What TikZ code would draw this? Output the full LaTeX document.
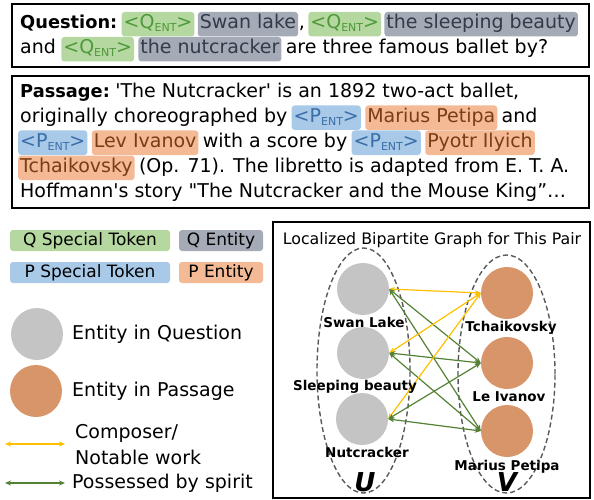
\documentclass[tikz,border=0pt]{standalone}
\usepackage{fontspec}
\setmainfont{DejaVu Sans}
\usetikzlibrary{arrows.meta,positioning,shapes.geometric}

\definecolor{qtokfill}{HTML}{B5D7A0}
\definecolor{qtoktext}{HTML}{4E9A3A}
\definecolor{qentfill}{HTML}{A5AAB7}
\definecolor{qenttext}{HTML}{333A48}
\definecolor{ptokfill}{HTML}{A8C9E8}
\definecolor{ptoktext}{HTML}{3A6EA8}
\definecolor{pentfill}{HTML}{F4B995}
\definecolor{penttext}{HTML}{7A3E14}
\definecolor{qcirc}{HTML}{C4C4C4}
\definecolor{pcirc}{HTML}{D9956A}
\definecolor{yedgecol}{HTML}{FFC000}
\definecolor{gedgecol}{HTML}{548235}

\newcommand\bigtxt{\fontsize{19}{25}\selectfont}
\newcommand\headtxt{\fontsize{17.8}{25}\selectfont\bfseries}
\newcommand\entsub{\raisebox{-2.5pt}{\fontsize{11}{11}\selectfont ENT}}

\begin{document}
\begin{tikzpicture}[x=1pt,y=-1pt]
	\tikzset{frame/.style={draw,line width=1.6pt}}
	\tikzset{txt/.style={inner sep=0pt,anchor=base west,text height=14pt,text depth=4.5pt,font=\bigtxt}}
	\tikzset{hl/.style={txt,rounded corners=3pt,inner xsep=2pt,inner ysep=3pt}}
	\tikzset{qtok/.style={hl,fill=qtokfill,text=qtoktext}}
	\tikzset{qent/.style={hl,fill=qentfill,text=qenttext}}
	\tikzset{ptok/.style={hl,fill=ptokfill,text=ptoktext}}
	\tikzset{pent/.style={hl,fill=pentfill,text=penttext}}
	\tikzset{legbox/.style={rounded corners=3pt,minimum height=21pt,inner sep=0pt,font=\fontsize{17}{20}\selectfont}}
	\tikzset{legtext/.style={anchor=west,inner sep=0pt,font=\bigtxt}}
	\tikzset{qnode/.style={circle,fill=qcirc,minimum size=52pt,inner sep=0pt}}
	\tikzset{pnode/.style={circle,fill=pcirc,minimum size=52pt,inner sep=0pt}}
	\tikzset{glabel/.style={inner sep=0pt,font=\fontsize{13.5}{15}\selectfont\bfseries}}
	\tikzset{setbound/.style={ellipse,draw=black!65,dash pattern=on 5pt off 3pt,line width=1.4pt,inner sep=0pt}}
	\tikzset{yedge/.style={draw=yedgecol,line width=1.2pt,{Stealth[length=6pt,width=5pt]}-{Stealth[length=6pt,width=5pt]}}}
	\tikzset{gedge/.style={draw=gedgecol,line width=1.2pt,{Stealth[length=6pt,width=5pt]}-{Stealth[length=6pt,width=5pt]}}}
	\useasboundingbox (0,0) rectangle (594,500);

	% question box
	\draw[frame] (12,4) rectangle (589,67);
	\node[txt] (qlab) at (20,29) {\headtxt Question:};
	\node[qtok] (qt1) at ([xshift=4pt]qlab.base east) {<Q\entsub>};
	\node[qent] (qe1) at ([xshift=3pt]qt1.base east) {Swan lake};
	\node[txt] (qcomma) at ([xshift=0.5pt]qe1.base east) {,};
	\node[qtok] (qt2) at ([xshift=3pt]qcomma.base east) {<Q\entsub>};
	\node[qent] (qe2) at ([xshift=3pt]qt2.base east) {the sleeping beauty};
	\node[txt] (qand) at (20,54) {and};
	\node[qtok] (qt3) at ([xshift=5pt]qand.base east) {<Q\entsub>};
	\node[qent] (qe3) at ([xshift=4pt]qt3.base east) {the nutcracker};
	\node[txt] (qrest) at ([xshift=4pt]qe3.base east) {are three famous ballet by?};

	% passage box
	\draw[frame] (12,76) rectangle (589,208);
	\node[txt] (plab) at (20,97.5) {\headtxt Passage:};
	\node[txt] (pl1) at ([xshift=5pt]plab.base east) {\textquotesingle The Nutcracker\textquotesingle{} is an 1892 two-act ballet,};
	\node[txt] (pl2) at (20,122.5) {originally choreographed by};
	\node[ptok] (pt1) at ([xshift=4pt]pl2.base east) {<P\entsub>};
	\node[pent] (pe1) at ([xshift=4pt]pt1.base east) {Marius Petipa};
	\node[txt] (pand) at ([xshift=4pt]pe1.base east) {and};
	\node[ptok] (pt2) at (18,147.5) {<P\entsub>};
	\node[pent] (pe2) at ([xshift=4pt]pt2.base east) {Lev Ivanov};
	\node[txt] (pl3) at ([xshift=4pt]pe2.base east) {with a score by};
	\node[ptok] (pt3) at ([xshift=4pt]pl3.base east) {<P\entsub>};
	\node[pent] (pe3) at ([xshift=4pt]pt3.base east) {Pyotr Ilyich};
	\node[pent] (pe3b) at (18,172.5) {Tchaikovsky};
	\node[txt] (pl4) at ([xshift=4pt]pe3b.base east) {(Op. 71). The libretto is adapted from E. T. A.};
	\node[txt] (pl5) at (20,197.5) {Hoffmann\textquotesingle s story \textquotedbl The Nutcracker and the Mouse King”…};

	% legend
	\node[legbox,fill=qtokfill,minimum width=160pt] (lqt) at (90,240.5) {Q Special Token};
	\node[legbox,fill=qentfill,minimum width=84pt] (lqe) at (221,240.5) {Q Entity};
	\node[legbox,fill=ptokfill,minimum width=160pt] (lpt) at (90,272.5) {P Special Token};
	\node[legbox,fill=pentfill,minimum width=84pt] (lpe) at (221,272.5) {P Entity};
	\node[qnode] (lqc) at (37,334) {};
	\node[legtext] (lqctext) at (72,334) {Entity in Question};
	\node[pnode] (lpc) at (36,391) {};
	\node[legtext] (lpctext) at (72,391) {Entity in Passage};
	\coordinate (ya) at (5,444);
	\coordinate (yb) at (65,444);
	\draw[yedge] (ya) -- (yb);
	\node[legtext] (ytext1) at (75,433) {Composer/};
	\node[legtext] (ytext2) at (75,457) {Notable work};
	\coordinate (ga) at (5,483);
	\coordinate (gb) at (65,483);
	\draw[gedge] (ga) -- (gb);
	\node[legtext] (gtext) at (72,483) {Possessed by spirit};

	% bipartite graph
	\draw[frame] (273,222) rectangle (590,498);
	\node[inner sep=0pt,font=\fontsize{15.8}{18}\selectfont] (gtitle) at (432,240) {Localized Bipartite Graph for This Pair};
	\node[setbound,minimum width=93pt,minimum height=245pt] (uset) at (363.5,370.5) {};
	\node[setbound,minimum width=97pt,minimum height=238pt] (vset) at (506.5,374) {};
	\node[qnode] (swan) at (363,289) {};
	\node[qnode] (sleep) at (363,353) {};
	\node[qnode] (nut) at (362,419) {};
	\node[pnode] (tchai) at (507,293) {};
	\node[pnode] (ivanov) at (507,363) {};
	\node[pnode] (petipa) at (507,431) {};
	\foreach \q in {swan,sleep,nut}{
		\draw[yedge] (\q.east) -- (tchai.west);
		\draw[gedge] (\q.east) -- (ivanov.west);
		\draw[gedge] (\q.east) -- (petipa.west);
	}
	\node[glabel] (swanlab) at (364,322) {Swan Lake};
	\node[glabel] (sleeplab) at (355,387) {Sleeping beauty};
	\node[glabel] (nutlab) at (367,452) {Nutcracker};
	\node[glabel] (tchailab) at (511,328) {Tchaikovsky};
	\node[glabel] (ivanovlab) at (509,397) {Le Ivanov};
	\node[glabel] (petipalab) at (507,467) {Marius Petipa};
	\node[inner sep=0pt,font=\fontsize{26}{28}\selectfont\bfseries\itshape] (ulab) at (365,482) {U};
	\node[inner sep=0pt,font=\fontsize{26}{28}\selectfont\bfseries\itshape] (vlab) at (507,482) {V};
\end{tikzpicture}
\end{document}
